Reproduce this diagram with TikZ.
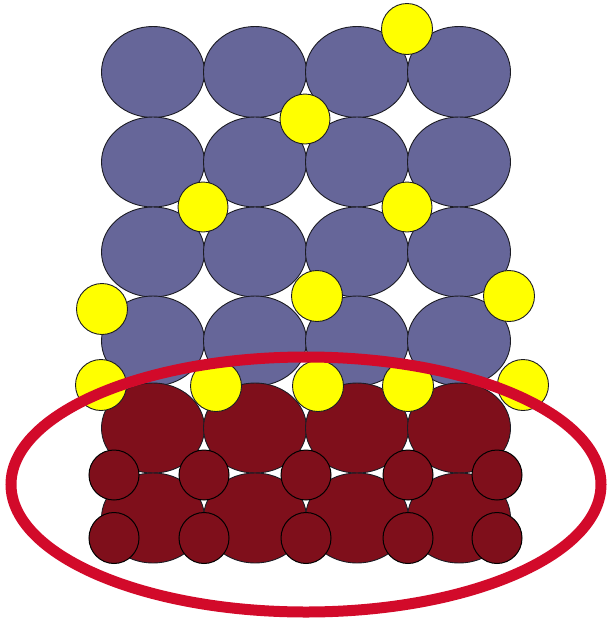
\documentclass[tikz,border=0pt]{standalone}
\usepackage{tikz}
\definecolor{outline}{HTML}{1C1C24}
\definecolor{hostblue}{HTML}{666699}
\definecolor{basered}{HTML}{7F0F1B}
\definecolor{dopant}{HTML}{FFFF00}
\definecolor{ringred}{HTML}{D20A2A}

\begin{document}
\begin{tikzpicture}[
  x=1pt,
  y=-1pt,
  host/.style={draw=outline, fill=hostblue, line width=.9pt},
  base/.style={draw=outline, fill=basered, line width=.9pt},
  basesmall/.style={draw=black, fill=basered, line width=1pt},
  guest/.style={draw=outline, fill=dopant, line width=.9pt},
  ring/.style={draw=ringred, line width=11pt},
]
\useasboundingbox (0,0) rectangle (609,619);

% Host layer: four rows of blue ellipses.
\draw[host] (153,72) ellipse [x radius=51.5pt, y radius=45.5pt];
\draw[host] (255,72) ellipse [x radius=51.5pt, y radius=45.5pt];
\draw[host] (357,72) ellipse [x radius=51.5pt, y radius=45.5pt];
\draw[host] (459,72) ellipse [x radius=51.5pt, y radius=45.5pt];

\draw[host] (153,162) ellipse [x radius=51.5pt, y radius=45pt];
\draw[host] (255,162) ellipse [x radius=51.5pt, y radius=45pt];
\draw[host] (357,162) ellipse [x radius=51.5pt, y radius=45pt];
\draw[host] (459,162) ellipse [x radius=51.5pt, y radius=45pt];

\draw[host] (153,252) ellipse [x radius=51.5pt, y radius=45pt];
\draw[host] (255,252) ellipse [x radius=51.5pt, y radius=45pt];
\draw[host] (357,252) ellipse [x radius=51.5pt, y radius=45pt];
\draw[host] (459,252) ellipse [x radius=51.5pt, y radius=45pt];

\draw[host] (153,341) ellipse [x radius=51.5pt, y radius=45pt];
\draw[host] (255,341) ellipse [x radius=51.5pt, y radius=45pt];
\draw[host] (357,341) ellipse [x radius=51.5pt, y radius=45pt];
\draw[host] (459,341) ellipse [x radius=51.5pt, y radius=45pt];

% Base layer: two rows of dark red ellipses.
\draw[base] (153,428) ellipse [x radius=51.5pt, y radius=45pt];
\draw[base] (255,428) ellipse [x radius=51.5pt, y radius=45pt];
\draw[base] (357,428) ellipse [x radius=51.5pt, y radius=45pt];
\draw[base] (459,428) ellipse [x radius=51.5pt, y radius=45pt];

\draw[base] (153,518) ellipse [x radius=51.5pt, y radius=45pt];
\draw[base] (255,518) ellipse [x radius=51.5pt, y radius=45pt];
\draw[base] (357,518) ellipse [x radius=51.5pt, y radius=45pt];
\draw[base] (459,518) ellipse [x radius=51.5pt, y radius=45pt];

% Small base atoms between the ellipses.
\draw[basesmall] (114,475) ellipse [x radius=25pt, y radius=25pt];
\draw[basesmall] (204,475) ellipse [x radius=25pt, y radius=25pt];
\draw[basesmall] (306,475) ellipse [x radius=25pt, y radius=25pt];
\draw[basesmall] (408,475) ellipse [x radius=25pt, y radius=25pt];
\draw[basesmall] (497,475) ellipse [x radius=25pt, y radius=25pt];

\draw[basesmall] (114,538) ellipse [x radius=25pt, y radius=25.5pt];
\draw[basesmall] (204,538) ellipse [x radius=25pt, y radius=25.5pt];
\draw[basesmall] (306,538) ellipse [x radius=25pt, y radius=25.5pt];
\draw[basesmall] (408,538) ellipse [x radius=25pt, y radius=25.5pt];
\draw[basesmall] (497,538) ellipse [x radius=25pt, y radius=25.5pt];

% Yellow guests in the host layer.
\draw[guest] (407,29) circle [radius=25.5pt];
\draw[guest] (305,119) circle [radius=25pt];
\draw[guest] (203,207) circle [radius=25pt];
\draw[guest] (407,207) circle [radius=25pt];
\draw[guest] (102,309) circle [radius=25.5pt];
\draw[guest] (317,296) circle [radius=25.5pt];
\draw[guest] (509,296) circle [radius=25.5pt];

% Yellow guests at the interface.
\draw[guest] (101,385) circle [radius=25.5pt];
\draw[guest] (216,386) circle [radius=25.5pt];
\draw[guest] (318,386) circle [radius=25.5pt];
\draw[guest] (408,386) circle [radius=25.5pt];
\draw[guest] (523,385) circle [radius=25.5pt];

% Highlight round the base layer.
\draw[ring] (306,484.5) ellipse [x radius=295pt, y radius=127.5pt];

\end{tikzpicture}
\end{document}
